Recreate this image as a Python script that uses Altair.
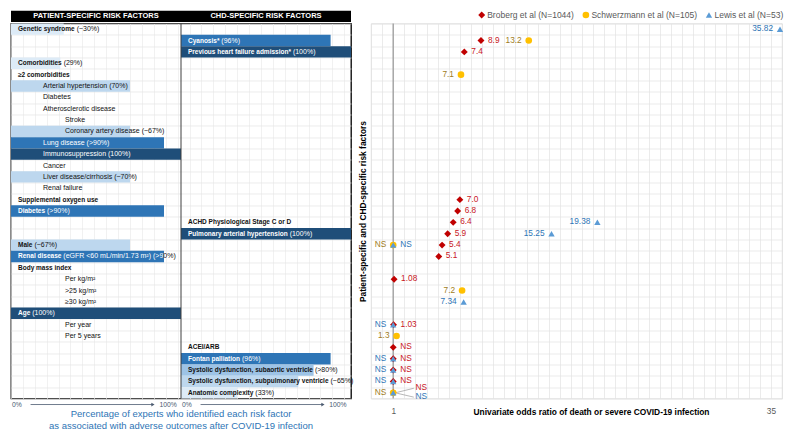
import altair as alt
import pandas as pd

FONT = "Liberation Sans"

# ----------------------------------------------------------------- data ---
column_headers = ["PATIENT-SPECIFIC RISK FACTORS", "CHD-SPECIFIC RISK FACTORS"]

# one entry per table row, top to bottom; "P" = patient-specific, "C" = CHD-specific
factor_column = ["P", "C", "C", "P", "P", "P", "P", "P", "P", "P", "P",
                 "P", "P", "P", "P", "P", "P", "C", "C", "P", "P", "P",
                 "P", "P", "P", "P", "P", "P", "C", "C", "C", "C", "C"]
factor_bold = ["Genetic syndrome", "Cyanosis*", "Previous heart failure admission*",
               "Comorbidities", "\u22652 comorbidities", "", "", "", "", "", "",
               "", "", "", "", "Supplemental oxygen use", "Diabetes",
               "ACHD Physiological Stage C or D", "Pulmonary arterial hypertension",
               "Male", "Renal disease", "Body mass index",
               "", "", "", "Age", "", "", "ACEI/ARB", "Fontan palliation",
               "Systolic dysfunction, subaortic ventricle",
               "Systolic dysfunction, subpulmonary ventricle", "Anatomic complexity"]
factor_plain = [" (~30%)", " (96%)", " (100%)", " (29%)", "",
                "Arterial hypertension (70%)", "Diabetes", "Atherosclerotic disease",
                "Stroke", "Coronary artery disease (~67%)", "Lung disease (>90%)",
                "Immunosuppression (100%)", "Cancer", "Liver disease/cirrhosis (~70%)",
                "Renal failure", "", " (>90%)", "", " (100%)", " (~67%)",
                " (eGFR <60 mL/min/1.73 m\u00b2) (>90%)", "",
                "Per kg/m\u00b2", ">25 kg/m\u00b2", "\u226530 kg/m\u00b2", " (100%)",
                "Per year", "Per 5 years", "", " (96%)", " (>80%)", " (~65%)", " (33%)"]
factor_indent = [0, 0, 0, 0, 0, 1, 1, 1, 2, 2, 1,
                 1, 1, 1, 1, 0, 0, 0, 0, 0, 0, 0,
                 2, 2, 2, 0, 2, 2, 0, 0, 0, 0, 0]
# drawn bar length (% of the column)
bar_percent = [31, 88, 100, 29, None, 70, None, None, None, 70,
               90, 100, None, 70, None, None, 90, None, 100, 70,
               90, None, None, None, None, 100, None, None, None, 88,
               78, 69, 33]
scale_labels = ["0%", "100%"]
caption_lines = ["Percentage of experts who identified each risk factor",
                 "as associated with adverse outcomes after COVID-19 infection"]

series_names = ["Broberg et al (N=1044)", "Schwerzmann et al (N=105)", "Lewis et al (N=53)"]
broberg_rows = [2, 3, 16, 17, 18, 19, 20, 21, 23, 27, 29, 30, 31, 32, 33]
broberg_or = ["8.9", "7.4", "7.0", "6.8", "6.4", "5.9", "5.4", "5.1", "1.08", "1.03",
              "NS", "NS", "NS", "NS", "NS"]
schwerzmann_rows = [2, 5, 20, 24, 28, 33]
schwerzmann_or = ["13.2", "7.1", "NS", "7.2", "1.3", "NS"]
lewis_rows = [1, 18, 19, 20, 25, 27, 30, 31, 32, 33]
lewis_or = ["35.82", "19.38", "15.25", "NS", "7.34", "NS", "NS", "NS", "NS", "NS"]
ns_value = 1
x_domain = [-1, 36]
x_tick_labels = [1, 35]
x_title = "Univariate odds ratio of death or severe COVID-19 infection"
y_title = "Patient-specific and CHD-specific risk factors"

# --------------------------------------------------------------- styling ---
N_ROWS = len(factor_column)
PLOT_H = 375
ROW_PX = PLOT_H / N_ROWS
LEFT_W = 340
RIGHT_W = 411
PXU = LEFT_W / 200.0          # pixels per table unit (two columns of 100 %)
PXR = RIGHT_W / float(x_domain[1] - x_domain[0])   # pixels per odds-ratio unit
BOLD_SIZE = 6.5
REG_SIZE = 7.0
INDENT_PX = {0: 7, 1: 32, 2: 54}
TEXT_DARK = "#111111"

series_colors = ["#C00000", "#FFC000", "#5B9BD5"]
label_colors = ["#C8161D", "#A07C1B", "#2E75B6"]
series_shapes = ["diamond", "circle", "triangle-up"]
series_sizes = [48, 40, 30]
LABEL_SIDE = ["right", "left", "left"]
SIDE_OVERRIDE = {(2, 20): "right"}
CALLOUT_DY = {(0, 33): -0.40, (2, 33): 0.38}
CALLOUT_DX = 2.0
LEGEND_FONT = 8.5
LEGEND_START_PX = 110.7      # first legend symbol, from the plot's left edge
LEGEND_CENTER_PX = -8.5      # legend centre line, above the plot's top edge
LEGEND_LABEL_GAP = 5.5
LEGEND_ENTRY_GAP = 12.0


def _mk(groups):
    d = {}
    for w, chars in groups.items():
        for c in chars:
            d[c] = w
    return d


REG_W = _mk({222: "ijl", 278: " ft/.,:I", 333: "r()-\u00b2", 389: "*", 500: "ckvxyzsJ",
             549: "\u2265", 556: "abdeghnopqu0123456789L", 584: "~<>=", 611: "FTZ",
             667: "ABEKPSVXY", 722: "CDHNRUw", 778: "GOQ", 833: "mM", 889: "%", 944: "W"})
BOLD_W = _mk({278: " ijlI./,", 333: "ft()-:", 389: "r*", 500: "z", 549: "\u2265",
              556: "acekvsxyJ0123456789", 584: "~<>=", 611: "bdghnopquLFTZ",
              667: "EPSVXY", 722: "ABCDHKNRU", 778: "GOQw", 833: "M", 889: "m%", 944: "W"})


def text_px(s, table, size):
    return sum(table.get(c, 556) for c in s) * size / 1000.0


def bar_fill(p):
    if p >= 99:
        return "#1F4E79"
    if p >= 85:
        return "#2E75B6"
    if p >= 75:
        return "#9DC3E6"
    if p >= 50:
        return "#BDD7EE"
    return "#DDEBF7"


def split_segments(text, start, table, size, bar_end, on_dark):
    parts = []
    pos = start
    cur, cur_start, cur_white = "", start, None
    for ch in text:
        w = table.get(ch, 556) * size / 1000.0
        white = on_dark and (pos + w / 2.0) <= bar_end
        if cur and white != cur_white:
            parts.append((cur, cur_start, cur_white))
            cur = ""
        if not cur:
            cur_start, cur_white = pos, white
        cur += ch
        pos += w
    if cur:
        parts.append((cur, cur_start, cur_white))
    out = []
    for t, s, wht in parts:
        lead = len(t) - len(t.lstrip(" "))
        s += lead * table[" "] * size / 1000.0
        t = t.strip(" ")
        if t:
            out.append((t, s, wht))
    return out, pos


bars, segs = [], []
for i in range(N_ROWS):
    row = i + 1
    col_units = 0 if factor_column[i] == "P" else 100
    col_px = col_units * PXU
    pct = bar_percent[i]
    on_dark = pct is not None and pct >= 85
    bar_end_px = col_px + (pct or 0) * PXU
    if pct is not None:
        bars.append(dict(x0=col_units, x1=col_units + pct, y0=row - 0.5, y1=row + 0.5,
                         fill=bar_fill(pct)))
    pos = col_px + INDENT_PX[factor_indent[i]]
    for text, weight in ((factor_bold[i], "bold"), (factor_plain[i], "normal")):
        if not text:
            continue
        tbl, size = (BOLD_W, BOLD_SIZE) if weight == "bold" else (REG_W, REG_SIZE)
        parts, pos = split_segments(text, pos, tbl, size, bar_end_px, on_dark)
        for t, s, wht in parts:
            segs.append(dict(x=s / PXU, row=row, text=t, weight=weight,
                             color="#FFFFFF" if wht else TEXT_DARK))
bars_df = pd.DataFrame(bars)
seg_df = pd.DataFrame(segs)

header_df = pd.DataFrame({"x0": [0, 100], "x1": [100, 200], "xc": [50, 150],
                          "y0": [-0.62, -0.62], "y1": [0.36, 0.36], "yc": [-0.14, -0.14],
                          "text": column_headers})
divider_df = pd.DataFrame({"x": [100], "y0": [0.5], "y1": [N_ROWS + 0.5]})
SCALE_Y = N_ROWS + 1.03
scale_lo = pd.DataFrame({"x": [0.6, 100.6], "y": [SCALE_Y] * 2, "text": [scale_labels[0]] * 2})
scale_hi = pd.DataFrame({"x": [97.6, 197.4], "y": [SCALE_Y] * 2, "text": [scale_labels[1]] * 2})
arrow_df = pd.DataFrame({"x0": [11.5, 111.5], "x1": [83.5, 183.5], "y": [SCALE_Y] * 2})

# ------------------------------------------------------------ left table ---
xs_l = alt.Scale(domain=[0, 200], nice=False, zero=False)
ys_l = alt.Scale(domain=[0.5, N_ROWS + 0.5], reverse=True, nice=False, zero=False)
xa_l = alt.Axis(values=list(range(0, 201, 7)), grid=True, gridColor="#EBEBEB", gridWidth=0.7,
                labels=False, ticks=False, domain=False, title=None)
ya_l = alt.Axis(values=[k + 0.5 for k in range(N_ROWS + 1)], grid=True, gridColor="#E4E4E4",
                gridWidth=0.7, labels=False, ticks=False, domain=False, title=None)

l_bars = alt.Chart(bars_df).mark_rect().encode(
    x=alt.X("x0:Q", scale=xs_l, axis=xa_l), x2="x1:Q",
    y=alt.Y("y0:Q", scale=ys_l, axis=ya_l), y2="y1:Q",
    color=alt.Color("fill:N", scale=None))
l_head = alt.Chart(header_df).mark_rect(color="#000000").encode(
    x=alt.X("x0:Q", scale=xs_l, axis=xa_l), x2="x1:Q",
    y=alt.Y("y0:Q", scale=ys_l, axis=ya_l), y2="y1:Q")
l_head_txt = alt.Chart(header_df).mark_text(
    align="center", baseline="middle", font=FONT, fontSize=7.5, fontWeight="bold",
    color="#FFFFFF").encode(
    x=alt.X("xc:Q", scale=xs_l, axis=xa_l), y=alt.Y("yc:Q", scale=ys_l, axis=ya_l), text="text:N")
l_div = alt.Chart(divider_df).mark_rule(color="#3F3F3F", strokeWidth=1).encode(
    x=alt.X("x:Q", scale=xs_l, axis=xa_l),
    y=alt.Y("y0:Q", scale=ys_l, axis=ya_l), y2="y1:Q")


def seg_layer(weight, size):
    d = seg_df[seg_df["weight"] == weight]
    return alt.Chart(d).mark_text(
        align="left", baseline="middle", font=FONT, fontSize=size, fontWeight=weight).encode(
        x=alt.X("x:Q", scale=xs_l, axis=xa_l), y=alt.Y("row:Q", scale=ys_l, axis=ya_l),
        text="text:N", color=alt.Color("color:N", scale=None))


SCALE_COLOR = "#4A5A70"
l_lo = alt.Chart(scale_lo).mark_text(align="left", baseline="middle", font=FONT, fontSize=6.8,
                                     color=SCALE_COLOR).encode(
    x=alt.X("x:Q", scale=xs_l, axis=xa_l), y=alt.Y("y:Q", scale=ys_l, axis=ya_l), text="text:N")
l_hi = alt.Chart(scale_hi).mark_text(align="right", baseline="middle", font=FONT, fontSize=6.8,
                                     color=SCALE_COLOR).encode(
    x=alt.X("x:Q", scale=xs_l, axis=xa_l), y=alt.Y("y:Q", scale=ys_l, axis=ya_l), text="text:N")
l_arrow = alt.Chart(arrow_df).mark_rule(color=SCALE_COLOR, strokeWidth=0.8).encode(
    x=alt.X("x0:Q", scale=xs_l, axis=xa_l), x2="x1:Q", y=alt.Y("y:Q", scale=ys_l, axis=ya_l))
l_head_arrow = alt.Chart(arrow_df).mark_point(shape="triangle-right", filled=True, size=14,
                                              color=SCALE_COLOR, opacity=1).encode(
    x=alt.X("x1:Q", scale=xs_l, axis=xa_l), y=alt.Y("y:Q", scale=ys_l, axis=ya_l))

left = alt.layer(l_bars, l_head, l_div, seg_layer("bold", BOLD_SIZE), seg_layer("normal", REG_SIZE),
                 l_head_txt, l_lo, l_hi, l_arrow, l_head_arrow).properties(
    width=LEFT_W, height=PLOT_H,
    title=alt.TitleParams(text=caption_lines, orient="bottom", anchor="middle", font=FONT,
                          fontSize=9.5, fontWeight="normal", color="#2E74B5", offset=1,
                          lineHeight=11.3),
    view=alt.ViewBackground(stroke="#000000", strokeWidth=1.3))

# ------------------------------------------------------------ right plot ---
pts = []
for s, (rows, vals) in enumerate([(broberg_rows, broberg_or), (schwerzmann_rows, schwerzmann_or),
                                  (lewis_rows, lewis_or)]):
    for r, v in zip(rows, vals):
        xv = ns_value if v == "NS" else float(v)
        side = SIDE_OVERRIDE.get((s, r), LABEL_SIDE[s])
        if (s, r) in CALLOUT_DY:
            side = "callout"
        pts.append(dict(series=series_names[s], sidx=s, row=r, xp=xv, label=v, side=side,
                        lx=xv + (CALLOUT_DX if side == "callout" else 0),
                        ly=r + CALLOUT_DY.get((s, r), 0.0)))
pts_df = pd.DataFrame(pts)
call_df = pts_df[pts_df["side"] == "callout"].copy()
call_df["ax"] = call_df["xp"] + 0.35
call_df["ay"] = call_df["row"] + (call_df["ly"] - call_df["row"]) * 0.1
call_df["bx"] = call_df["lx"] - 0.15

# legend entries laid out from the widths of their own labels
leg = []
cursor = LEGEND_START_PX
for s, name in enumerate(series_names):
    leg.append(dict(series=name, sidx=s, xp=x_domain[0] + cursor / PXR,
                    lx=x_domain[0] + (cursor + LEGEND_LABEL_GAP) / PXR,
                    row=0.5 + LEGEND_CENTER_PX / ROW_PX, label=name))
    cursor += LEGEND_LABEL_GAP + text_px(name, REG_W, LEGEND_FONT) + LEGEND_ENTRY_GAP
leg_df = pd.DataFrame(leg)

xs_r = alt.Scale(domain=x_domain, nice=False, zero=False)
ys_r = alt.Scale(domain=[0.5, N_ROWS + 0.5], reverse=True, nice=False, zero=False)
label_test = " || ".join("datum.value == %s" % v for v in x_tick_labels)
xa_r = alt.Axis(values=list(range(x_domain[0], x_domain[1] + 1)), grid=True, gridColor="#E2E2E2",
                gridWidth=0.7, ticks=False, domain=False,
                labelExpr="(%s) ? datum.label : ''" % label_test,
                labelOverlap=False, labelFont=FONT, labelFontSize=8.3, labelColor="#595959",
                labelPadding=8, labelFlush=False,
                title=x_title, titleFont=FONT, titleFontSize=8.4, titleFontWeight="bold",
                titleColor="#000000", titleX=220, titleY=12.5, titleBaseline="middle")
ya_r = alt.Axis(values=[k + 0.5 for k in range(N_ROWS + 1)], grid=True, gridColor="#E2E2E2",
                gridWidth=0.7, labels=False, ticks=False, domain=False,
                title=y_title, titleFont=FONT, titleFontSize=8.4, titleFontWeight="bold",
                titleColor="#000000", titlePadding=4)

col_enc = alt.Color("series:N", scale=alt.Scale(domain=series_names, range=series_colors), legend=None)
shp_enc = alt.Shape("series:N", scale=alt.Scale(domain=series_names, range=series_shapes), legend=None)
siz_enc = alt.Size("series:N", scale=alt.Scale(domain=series_names, range=series_sizes), legend=None)

r_one = alt.Chart(pd.DataFrame({"x": [ns_value]})).mark_rule(color="#A6A6A6", strokeWidth=1.5).encode(
    x=alt.X("x:Q", scale=xs_r, axis=xa_r))
r_leader = alt.Chart(call_df).mark_rule(color="#A6A6A6", strokeWidth=0.8).encode(
    x=alt.X("ax:Q", scale=xs_r, axis=xa_r), x2="bx:Q",
    y=alt.Y("ay:Q", scale=ys_r, axis=ya_r), y2="ly:Q")
r_pts = alt.Chart(pts_df).mark_point(filled=True, opacity=1, strokeWidth=0).encode(
    x=alt.X("xp:Q", scale=xs_r, axis=xa_r),
    y=alt.Y("row:Q", scale=ys_r, axis=ya_r),
    color=col_enc, shape=shp_enc, size=siz_enc, order=alt.Order("sidx:Q"))
r_leg_sym = alt.Chart(leg_df).mark_point(filled=True, opacity=1, strokeWidth=0).encode(
    x=alt.X("xp:Q", scale=xs_r, axis=xa_r),
    y=alt.Y("row:Q", scale=ys_r, axis=ya_r),
    color=col_enc, shape=shp_enc, size=siz_enc)
r_leg_txt = alt.Chart(leg_df).mark_text(align="left", baseline="middle", font=FONT,
                                        fontSize=LEGEND_FONT, color="#595959").encode(
    x=alt.X("lx:Q", scale=xs_r, axis=xa_r), y=alt.Y("row:Q", scale=ys_r, axis=ya_r),
    text="label:N")

text_layers = []
for s in range(3):
    for side, align, dx in (("right", "left", 7), ("left", "right", -7), ("callout", "left", 0)):
        d = pts_df[(pts_df["sidx"] == s) & (pts_df["side"] == side)]
        if d.empty:
            continue
        text_layers.append(alt.Chart(d).mark_text(
            align=align, baseline="middle", dx=dx, font=FONT, fontSize=8.3,
            color=label_colors[s]).encode(
            x=alt.X("lx:Q", scale=xs_r, axis=xa_r), y=alt.Y("ly:Q", scale=ys_r, axis=ya_r),
            text="label:N"))

right = alt.layer(r_one, r_leader, r_pts, r_leg_sym, r_leg_txt, *text_layers).properties(
    width=RIGHT_W, height=PLOT_H,
    view=alt.ViewBackground(stroke="#D9D9D9", strokeWidth=0.8))

chart = alt.hconcat(left, right, spacing=20, bounds="flush").resolve_scale(
    x="independent", y="independent", color="independent", shape="independent",
    size="independent").properties(
    padding={"left": 2, "top": 1.5, "right": 1, "bottom": 0}).configure(font=FONT)

chart.save("out.html", embed_options={"renderer": "svg", "actions": False})
